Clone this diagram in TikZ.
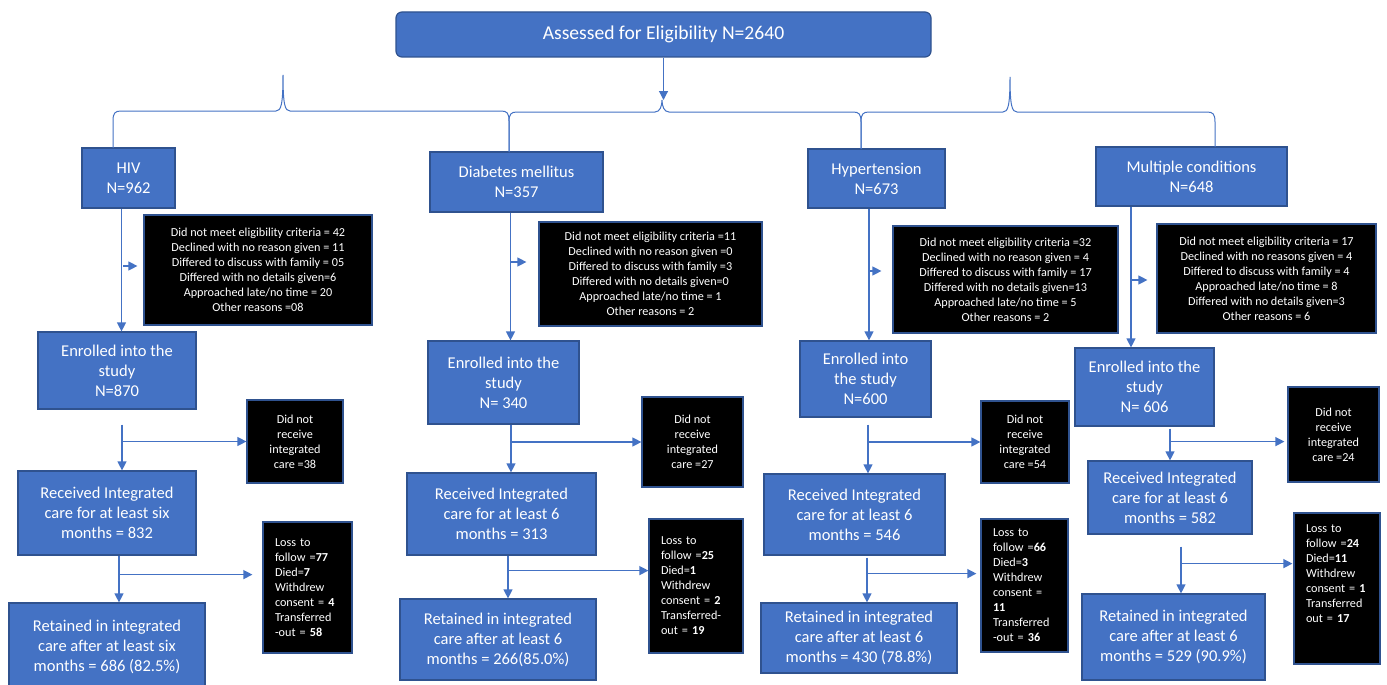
\documentclass[tikz,border=0pt]{standalone}
\usepackage{fontspec}
\setmainfont{Carlito}
\usetikzlibrary{arrows.meta}
\definecolor{boxBlue}{RGB}{68,114,196}
\definecolor{boxEdge}{RGB}{47,82,143}
\definecolor{lineBlue}{RGB}{68,114,196}

\begin{document}
\begin{tikzpicture}[x=1pt,y=-1pt,
  bluebox/.style={draw=boxEdge,fill=boxBlue,text=white,align=center,line width=1.2pt,
    inner sep=2pt,font=\fontsize{16.5}{20}\selectfont},
  exclbox/.style={draw=boxEdge,fill=black,text=white,align=center,line width=1.2pt,
    inner sep=2pt,font=\fontsize{12.2}{15}\selectfont},
  lossbox/.style={exclbox,align=left,inner xsep=12pt},
  flow/.style={lineBlue,line width=1.2pt,-{Triangle[length=9pt,width=9pt]}},
  link/.style={lineBlue,line width=1pt}]
  \fill[white] (0,0) rectangle (1387,685);
  \useasboundingbox (0,0) rectangle (1387,685);

  \node[bluebox,rounded corners=6pt,minimum width=535pt,minimum height=45pt,
    font=\fontsize{19.6}{23}\selectfont] (top) at (663.5,34.5) {Assessed for Eligibility N=2640};

  \node[bluebox,minimum width=93pt,minimum height=60pt] (hiv) at (128.5,178) {HIV\\N=962};
  \node[bluebox,minimum width=173pt,minimum height=60pt] (dm) at (516.5,182) {Diabetes mellitus\\N=357};
  \node[bluebox,minimum width=137pt,minimum height=59pt] (ht) at (876.5,178.5) {Hypertension\\N=673};
  \node[bluebox,minimum width=191pt,minimum height=59pt] (mc) at (1191.5,176.5) {Multiple conditions\\N=648};

  \foreach \a/\ya/\t/\ty/\b/\yb/\m in {113/148/283/75/509/152/111,
      509/152/662/100/861/149/112, 861/149/1010/77/1215/147/112}
    \draw[link] (\a,\ya) -- (\a,\m+10) .. controls (\a,\m+2) and (\a+2,\m) .. (\a+8,\m)
      -- (\t-7,\m) .. controls (\t-2,\m) and (\t,\m-6) .. (\t,\ty)
      .. controls (\t,\m-6) and (\t+2,\m) .. (\t+7,\m)
      -- (\b-8,\m) .. controls (\b-2,\m) and (\b,\m+2) .. (\b,\m+10) -- (\b,\yb);
  \coordinate (jn) at (662,100);
  \draw[flow] (top.south) -- (top.south |- jn);

  \node[exclbox,minimum width=228pt,minimum height=110pt] (x1) at (258,270)
    {Did not meet eligibility criteria = 42\\Declined with no reason given = 11\\
     Differed to discuss with family = 05\\Differed with no details given=6\\
     Approached late/no time = 20\\Other reasons =08};
  \node[exclbox,minimum width=223pt,minimum height=104pt] (x2) at (650.5,274)
    {Did not meet eligibility criteria =11\\Declined with no reason given =0\\
     Differed to discuss with family =3\\Differed with no details given=0\\
     Approached late/no time = 1\\Other reasons = 2};
  \node[exclbox,minimum width=225pt,minimum height=107pt] (x3) at (1005.5,279.5)
    {Did not meet eligibility criteria =32\\Declined with no reason given = 4\\
     Differed to discuss with family = 17\\Differed with no details given=13\\
     Approached late/no time = 5\\Other reasons = 2};
  \node[exclbox,minimum width=219pt,minimum height=109pt] (x4) at (1266.5,278.5)
    {Did not meet eligibility criteria = 17\\Declined with no reasons given = 4\\
     Differed to discuss with family = 4\\Approached late/no time = 8\\
     Differed with no details given=3\\Other reasons = 6};

  \node[bluebox,minimum width=158pt,minimum height=77pt] (e1) at (117,370.5) {Enrolled into the\\study\\N=870};
  \node[bluebox,minimum width=151pt,minimum height=83pt] (e2) at (503.5,382.5) {Enrolled into the\\study\\N= 340};
  \node[bluebox,minimum width=131pt,minimum height=76pt] (e3) at (865.5,379) {Enrolled into\\the study\\N=600};
  \node[bluebox,minimum width=139pt,minimum height=78pt] (e4) at (1144.5,387) {Enrolled into the\\study\\N= 606};

  \node[exclbox,minimum width=96pt,minimum height=83pt] (d1) at (295,441.5) {Did not\\receive\\integrated\\care =38};
  \node[exclbox,minimum width=101pt,minimum height=90pt] (d2) at (692.5,442) {Did not\\receive\\integrated\\care =27};
  \node[exclbox,minimum width=88pt,minimum height=82pt] (d3) at (1025,442) {Did not\\receive\\integrated\\care =54};
  \node[exclbox,minimum width=91pt,minimum height=95pt] (d4) at (1333.5,434.5) {Did not\\receive\\integrated\\care =24};

  \node[bluebox,minimum width=178pt,minimum height=84pt] (r1) at (107,513) {Received Integrated\\care for at least six\\months = 832};
  \node[bluebox,minimum width=189pt,minimum height=82pt] (r2) at (501.5,514) {Received Integrated\\care for at least 6\\months = 313};
  \node[bluebox,minimum width=181pt,minimum height=81pt] (r3) at (854.5,514.5) {Received Integrated\\care for at least 6\\months = 546};
  \node[bluebox,minimum width=164pt,minimum height=73pt] (r4) at (1170,497.5) {Received Integrated\\care for at least 6\\months = 582};

  \node[lossbox,text width=65pt,minimum height=131pt] (l1) at (307.5,587.5)
    {Loss to\\follow =\textbf{77}\\Died=\textbf{7}\\Withdrew\\consent = \textbf{4}\\Transferred\\-out = \textbf{58}};
  \node[lossbox,text width=70pt,minimum height=134pt] (l2) at (696,586)
    {Loss to\\follow =\textbf{25}\\Died=\textbf{1}\\Withdrew\\consent = \textbf{2}\\Transferred-\\out = \textbf{19}};
  \node[lossbox,text width=63pt,minimum height=133pt] (l3) at (1024.5,585.5)
    {Loss to\\follow =\textbf{66}\\Died=\textbf{3}\\Withdrew\\consent =\\\textbf{11}\\Transferred\\-out = \textbf{36}};
  \node[lossbox,text width=62pt,minimum height=151pt] (l4) at (1337,588.5)
    {Loss to\\follow =\textbf{24}\\Died=\textbf{11}\\Withdrew\\consent = \textbf{1}\\Transferred\\out = \textbf{17}\\[14pt]~};

  \node[bluebox,minimum width=196pt,minimum height=88pt] (t1) at (107,647) {Retained in integrated\\care after at least six\\months = 686 (82.5\%)};
  \node[bluebox,minimum width=196pt,minimum height=81pt] (t2) at (498,639.5) {Retained in integrated\\care after at least 6\\months = 266(85.0\%)};
  \node[bluebox,minimum width=196pt,minimum height=70pt] (t3) at (859,638) {Retained in integrated\\care after at least 6\\months = 430 (78.8\%)};
  \node[bluebox,minimum width=183pt,minimum height=86pt] (t4) at (1173.5,637) {Retained in integrated\\care after at least 6\\months = 529 (90.9\%)};

  % HIV
  \draw[flow] ([xshift=-7pt]hiv.south) -- ([xshift=-7pt]hiv.south |- e1.north);
  \draw[flow] ([xshift=-20pt,yshift=4pt]x1.west) -- ([xshift=-6pt,yshift=4pt]x1.west);
  \draw[flow] ([xshift=5pt,yshift=-15pt]e1.south) -- ([xshift=5pt]e1.south |- r1.north);
  \draw[flow] ([xshift=5pt]e1.south |- d1.west) -- (d1.west);
  \draw[flow] ([xshift=12pt]r1.south) -- ([xshift=12pt]r1.south |- t1.north);
  \draw[flow] ([xshift=12pt,yshift=-19pt]r1.south) -- ([xshift=-10pt,yshift=-19pt]r1.south -| l1.west);
  % diabetes
  \draw[flow] ([xshift=-6pt]dm.south) -- ([xshift=-6pt]dm.south |- e2.north);
  \draw[flow] ([xshift=-27pt,yshift=12pt]x2.west) -- ([xshift=-12pt,yshift=12pt]x2.west);
  \draw[flow] ([xshift=7.5pt]e2.south) -- ([xshift=7.5pt]e2.south |- r2.north);
  \draw[flow] ([xshift=7.5pt]e2.south |- d2.west) -- (d2.west);
  \draw[flow] ([xshift=6.5pt]r2.south) -- ([xshift=6.5pt]r2.south |- t2.north);
  \draw[flow] ([xshift=6.5pt,yshift=-15pt]r2.south) -- ([yshift=-15pt]r2.south -| l2.west);
  % hypertension
  \draw[flow] ([xshift=-7.5pt]ht.south) -- ([xshift=-7.5pt]ht.south |- e3.north);
  \draw[flow] ([xshift=-23pt,yshift=8.5pt]x3.west) -- ([xshift=-11pt,yshift=8.5pt]x3.west);
  \draw[flow] ([xshift=2.5pt,yshift=-7pt]e3.south) -- ([xshift=2.5pt]e3.south |- r3.north);
  \draw[flow] ([xshift=2.5pt]e3.south |- d3.west) -- (d3.west);
  \draw[flow] ([xshift=12.5pt,yshift=-2pt]r3.south) -- ([xshift=12.5pt]r3.south |- t3.north);
  \draw[flow] ([xshift=12.5pt,yshift=-18pt]r3.south) -- ([xshift=-4pt,yshift=-18pt]r3.south -| l3.west);
  % multiple conditions
  \draw[flow] ([xshift=-60.5pt]mc.south) -- ([xshift=-60.5pt]mc.south |- e4.north);
  \draw[flow] ([xshift=-26pt,yshift=-1.5pt]x4.west) -- ([xshift=-9pt,yshift=-1.5pt]x4.west);
  \draw[flow] ([xshift=25.5pt,yshift=-2pt]e4.south) -- ([xshift=25.5pt]e4.south |- r4.north);
  \draw[flow] ([xshift=25.5pt,yshift=-15pt]e4.south) -- ([xshift=-3pt,yshift=-15pt]e4.south -| d4.west);
  \draw[flow] ([xshift=11pt,yshift=-12pt]r4.south) -- ([xshift=11pt]r4.south |- t4.north);
  \draw[flow] ([xshift=11pt,yshift=-29pt]r4.south) -- ([xshift=-1pt,yshift=-29pt]r4.south -| l4.west);
\end{tikzpicture}
\end{document}
